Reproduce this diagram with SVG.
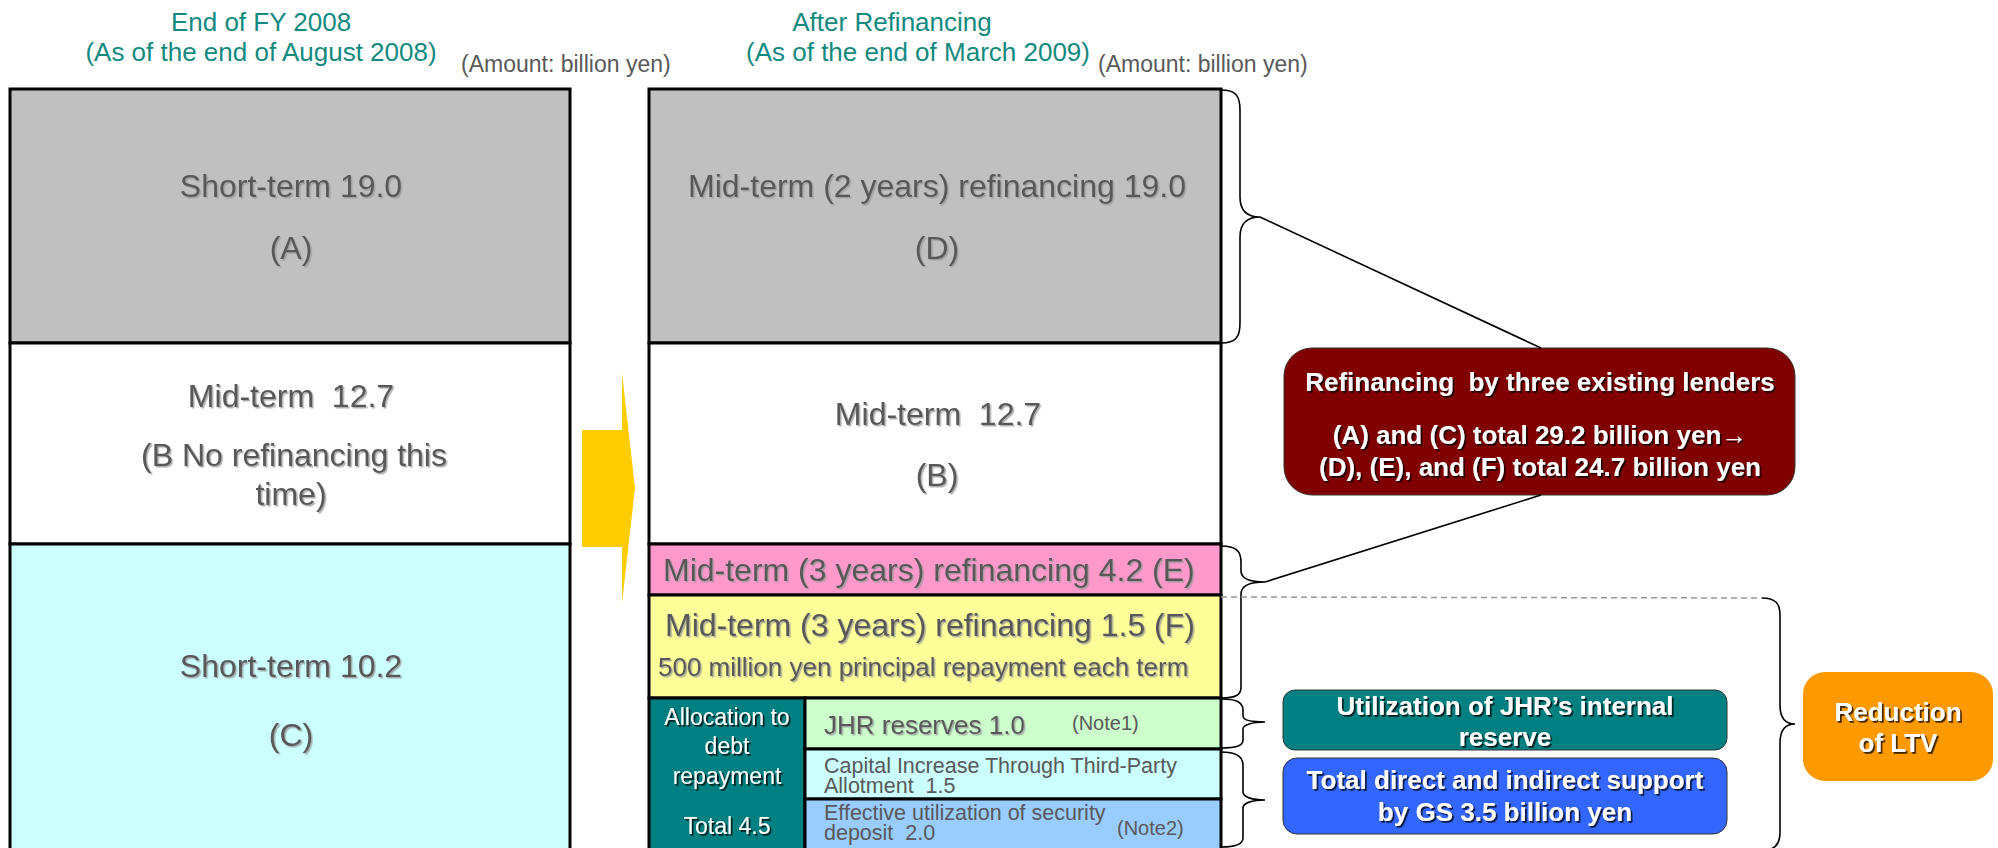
<svg xmlns="http://www.w3.org/2000/svg" width="1998" height="848" viewBox="0 0 1998 848">
<style>
text{font-family:"Liberation Sans",Arial,sans-serif}
.ttl{font-size:26px;fill:#138A80;text-anchor:middle}
.amt{font-size:23px;fill:#595959}
.g32{font-size:32px;fill:#595959;filter:url(#sg)}
.c{text-anchor:middle}
.g26{font-size:26px;fill:#595959;filter:url(#sg)}
.g21{font-size:21.5px;fill:#595959}
.note{font-size:20px;fill:#595959}
.w{fill:#fff;font-weight:bold;font-size:26px;text-anchor:middle;filter:url(#sw)}
.w23{fill:#fff;font-size:23px;text-anchor:middle;filter:url(#sw)}
.row{stroke:#000;stroke-width:3}
.br{fill:none;stroke:#000;stroke-width:1.6}
</style>
<defs>
<filter id="sg" x="-2%" y="-4%" width="104%" height="110%"><feDropShadow dx="1.5" dy="1.5" stdDeviation="0.4" flood-color="#999" flood-opacity="0.8"/></filter>
<filter id="sw" x="-2%" y="-4%" width="104%" height="110%"><feDropShadow dx="1.8" dy="1.8" stdDeviation="0.4" flood-color="#000" flood-opacity="0.75"/></filter>
</defs>
<rect width="1998" height="848" fill="#fff"/>

<g id="titles">
<text class="ttl" x="261" y="31">End of FY 2008</text>
<text class="ttl" x="261" y="61">(As of the end of August 2008)</text>
<text class="amt" x="461" y="72">(Amount: billion yen)</text>
<text class="ttl" x="892" y="31">After Refinancing</text>
<text class="ttl" x="918" y="61">(As of the end of March 2009)</text>
<text class="amt" x="1098" y="72">(Amount: billion yen)</text>
</g>

<g id="left-A">
<rect class="row" x="10" y="89" width="560" height="254" fill="#C0C0C0"/>
<text class="g32 c" x="291" y="197">Short-term 19.0</text>
<text class="g32 c" x="291" y="259">(A)</text>
</g>
<g id="left-B">
<rect class="row" x="10" y="343" width="560" height="201" fill="#FFFFFF"/>
<text class="g32 c" x="291" y="407">Mid-term&#160; 12.7</text>
<text class="g32 c" x="294" y="466">(B No refinancing this</text>
<text class="g32 c" x="291" y="505">time)</text>
</g>
<g id="left-C">
<rect class="row" x="10" y="544" width="560" height="310" fill="#CCFFFF"/>
<text class="g32 c" x="291" y="677">Short-term 10.2</text>
<text class="g32 c" x="291" y="746">(C)</text>
</g>

<g id="right-D">
<rect class="row" x="649" y="89" width="572" height="254" fill="#C0C0C0"/>
<text class="g32 c" x="937" y="197">Mid-term (2 years) refinancing 19.0</text>
<text class="g32 c" x="937" y="259">(D)</text>
</g>
<g id="right-B">
<rect class="row" x="649" y="343" width="572" height="201" fill="#FFFFFF"/>
<text class="g32 c" x="938" y="425">Mid-term&#160; 12.7</text>
<text class="g32 c" x="937" y="486">(B)</text>
</g>
<g id="right-E">
<rect class="row" x="649" y="544" width="572" height="51" fill="#FF99CC"/>
<text class="g32" x="663" y="581">Mid-term (3 years) refinancing 4.2 (E)</text>
</g>
<g id="right-F">
<rect class="row" x="649" y="595" width="572" height="103" fill="#FFFF99"/>
<text class="g32" x="665" y="636">Mid-term (3 years) refinancing 1.5 (F)</text>
<text class="g26" x="658" y="676">500 million yen principal repayment each term</text>
</g>
<g id="allocation">
<rect class="row" x="649" y="698" width="156" height="156" fill="#008080"/>
<text class="w23" x="727" y="725">Allocation to</text>
<text class="w23" x="727" y="754">debt</text>
<text class="w23" x="727" y="784">repayment</text>
<text class="w23" x="727" y="834">Total 4.5</text>
</g>
<g id="jhr-reserves">
<rect class="row" x="805" y="698" width="416" height="51" fill="#CCFFCC"/>
<text class="g26" x="824" y="734">JHR reserves 1.0</text>
<text class="note" x="1072" y="730">(Note1)</text>
</g>
<g id="capital-increase">
<rect class="row" x="805" y="749" width="416" height="50" fill="#CCFFFF"/>
<text class="g21" x="824" y="773">Capital Increase Through Third-Party</text>
<text class="g21" x="824" y="793">Allotment&#160; 1.5</text>
</g>
<g id="security-deposit">
<rect class="row" x="805" y="799" width="416" height="55" fill="#99CCFF"/>
<text class="g21" x="824" y="820">Effective utilization of security</text>
<text class="g21" x="824" y="840">deposit&#160; 2.0</text>
<text class="note" x="1117" y="835">(Note2)</text>
</g>

<g id="refinancing-callout">
<rect x="1284" y="348" width="511" height="147" rx="28" fill="#800000" stroke="#333" stroke-width="1"/>
<text class="w" x="1540" y="391">Refinancing&#160; by three existing lenders</text>
<text class="w" x="1540" y="444">(A) and (C) total 29.2 billion yen→</text>
<text class="w" x="1540" y="476">(D), (E), and (F) total 24.7 billion yen</text>
</g>
<g id="internal-reserve">
<rect x="1283" y="690" width="444" height="60" rx="12" fill="#008080" stroke="#333" stroke-width="1"/>
<text class="w" x="1505" y="715">Utilization of JHR’s internal</text>
<text class="w" x="1505" y="746">reserve</text>
</g>
<g id="gs-support">
<rect x="1283" y="758" width="444" height="76" rx="14" fill="#3366FF" stroke="#333" stroke-width="1"/>
<text class="w" x="1505" y="789">Total direct and indirect support</text>
<text class="w" x="1505" y="821">by GS 3.5 billion yen</text>
</g>
<g id="ltv">
<rect x="1803" y="672" width="190" height="109" rx="22" fill="#FF9900"/>
<text class="w" x="1898" y="721">Reduction</text>
<text class="w" x="1898" y="752">of LTV</text>
</g>

<g id="connectors">
<polygon points="582,430 622,430 622,373 635,488 622,603 622,547 582,547" fill="#FFCC00"/>
<path class="br" d="M1221,90 C1236,90 1240,96 1240,110 L1240,197 C1240,210 1246,217 1260,217 C1246,217 1240,224 1240,237 L1240,323 C1240,337 1236,343 1221,343"/>
<path class="br" d="M1260,217 L1541,348"/>
<path class="br" d="M1221,546 C1236,546 1241,551 1241,562 L1241,571 C1241,579 1250,582 1265,582 C1250,582 1241,586 1241,594 L1241,687 C1241,695 1236,698 1221,698"/>
<path class="br" d="M1265,582 L1541,495"/>
<path class="br" d="M1221,699 C1236,699 1243,702 1243,710 L1243,716 C1243,720 1252,722 1265,722 C1252,722 1243,725 1243,729 L1243,740 C1243,746 1236,748 1221,748"/>
<path class="br" d="M1221,752 C1236,752 1243,756 1243,765 L1243,792 C1243,797 1252,800 1265,800 C1252,800 1243,803 1243,808 L1243,838 C1243,844 1236,847 1221,847"/>
<path d="M1221,597 L1762,598" fill="none" stroke="#999" stroke-width="1.5" stroke-dasharray="6 4"/>
<path class="br" d="M1762,598 C1775,598 1780,603 1780,615 L1780,705 C1780,717 1785,724 1795,724 C1785,724 1780,731 1780,743 L1780,833 C1780,843 1776,848 1768,850"/>
</g>
</svg>
